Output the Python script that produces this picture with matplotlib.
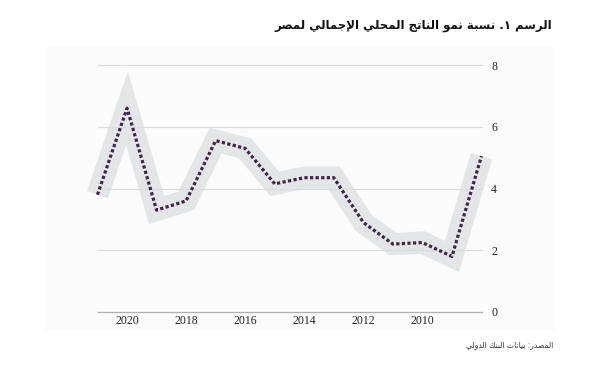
import matplotlib
matplotlib.use("Agg")
import matplotlib.pyplot as plt
from matplotlib.patches import Rectangle

# data (x axis runs right-to-left)
years = [2021, 2020, 2019, 2018, 2017, 2016, 2015, 2014, 2013, 2012, 2011, 2010, 2009, 2008]
growth = [3.8, 6.6, 3.3, 3.6, 5.55, 5.3, 4.15, 4.35, 4.35, 2.9, 2.2, 2.25, 1.8, 5.05]
xticks = [2020, 2018, 2016, 2014, 2012, 2010]
yticks = [0, 2, 4, 6, 8]

title = "الرسم ١. نسبة نمو الناتج المحلي الإجمالي لمصر"
source = "المصدر: بيانات البنك الدولي"

# matplotlib does no arabic shaping, so map letters to presentation forms
# tuple = right-joining only (isolated, final); int = dual-joining base
AR_FORMS = {
    'ا': (0xFE8D, 0xFE8E), 'إ': (0xFE87, 0xFE88), 'د': (0xFEA9, 0xFEAA),
    'ر': (0xFEAD, 0xFEAE), 'و': (0xFEED, 0xFEEE), 'ة': (0xFE93, 0xFE94),
    'ب': 0xFE8F, 'ت': 0xFE95, 'ج': 0xFE9D, 'ح': 0xFEA1, 'س': 0xFEB1,
    'ص': 0xFEB9, 'ك': 0xFED9, 'ل': 0xFEDD, 'م': 0xFEE1, 'ن': 0xFEE5, 'ي': 0xFEF1,
}
LAM_ALEF = {'ا': (0xFEFB, 0xFEFC), 'إ': (0xFEF9, 0xFEFA)}


def dual(c):
    return isinstance(AR_FORMS.get(c), int)


def shape(text):
    out = []
    i = 0
    while i < len(text):
        c = text[i]
        joins_prev = i > 0 and dual(text[i - 1])
        if c not in AR_FORMS:
            out.append(c)
            i += 1
            continue
        if c == 'ل' and i + 1 < len(text) and text[i + 1] in LAM_ALEF:
            out.append(chr(LAM_ALEF[text[i + 1]][1 if joins_prev else 0]))
            i += 2
            continue
        joins_next = i + 1 < len(text) and text[i + 1] in AR_FORMS
        f = AR_FORMS[c]
        if isinstance(f, int):
            out.append(chr(f + (1 if joins_prev else 0) + (2 if joins_next else 0)))
        else:
            out.append(chr(f[1] if joins_prev else f[0]))
        i += 1
    return ''.join(reversed(out))


fig = plt.figure(figsize=(6, 3.66), dpi=100)
fig.patches.append(Rectangle((46 / 600, 36 / 366), 507 / 600, 283 / 366,
                             transform=fig.transFigure, color="#fbfbfb", zorder=-5))

ax = fig.add_axes([97.5 / 600, 54 / 366, 384 / 600, 247 / 366])
ax.set_facecolor("none")

for y in yticks:
    ax.axhline(y, color="#b0b0b0" if y == 0 else "#dcdcdc", lw=0.9, zorder=2, clip_on=False)

ax.plot(years, growth, color="#e4e5e6", lw=16, solid_joinstyle="miter",
        solid_capstyle="butt", clip_on=False, zorder=1)
ax.plot(years, growth, color="#3b2742", lw=2.3, linestyle=(0, (1.0, 0.75)),
        dash_capstyle="butt", clip_on=False, zorder=3)

ax.set_xlim(2021, 2008)
ax.set_ylim(0, 8)
ax.set_xticks(xticks)
ax.set_xticklabels([str(t) for t in xticks], family="Liberation Serif", fontsize=8.5, color="#222222")
ax.set_yticks(yticks)
ax.set_yticklabels([str(t) for t in yticks], family="Liberation Serif", fontsize=8.5, color="#222222")
ax.yaxis.tick_right()
ax.tick_params(axis="both", length=0)
ax.tick_params(axis="y", pad=7)
ax.tick_params(axis="x", pad=2)
for s in ax.spines.values():
    s.set_visible(False)

fig.text(552 / 600, 1 - 26 / 366, shape(title), ha="right", va="center",
         family="DejaVu Sans", fontsize=8.5, fontweight="bold", color="#111111")
fig.text(553 / 600, 1 - 345 / 366, shape(source), ha="right", va="center",
         family="DejaVu Sans", fontsize=5.5, color="#333333")

fig.savefig("out.png", dpi=100)
